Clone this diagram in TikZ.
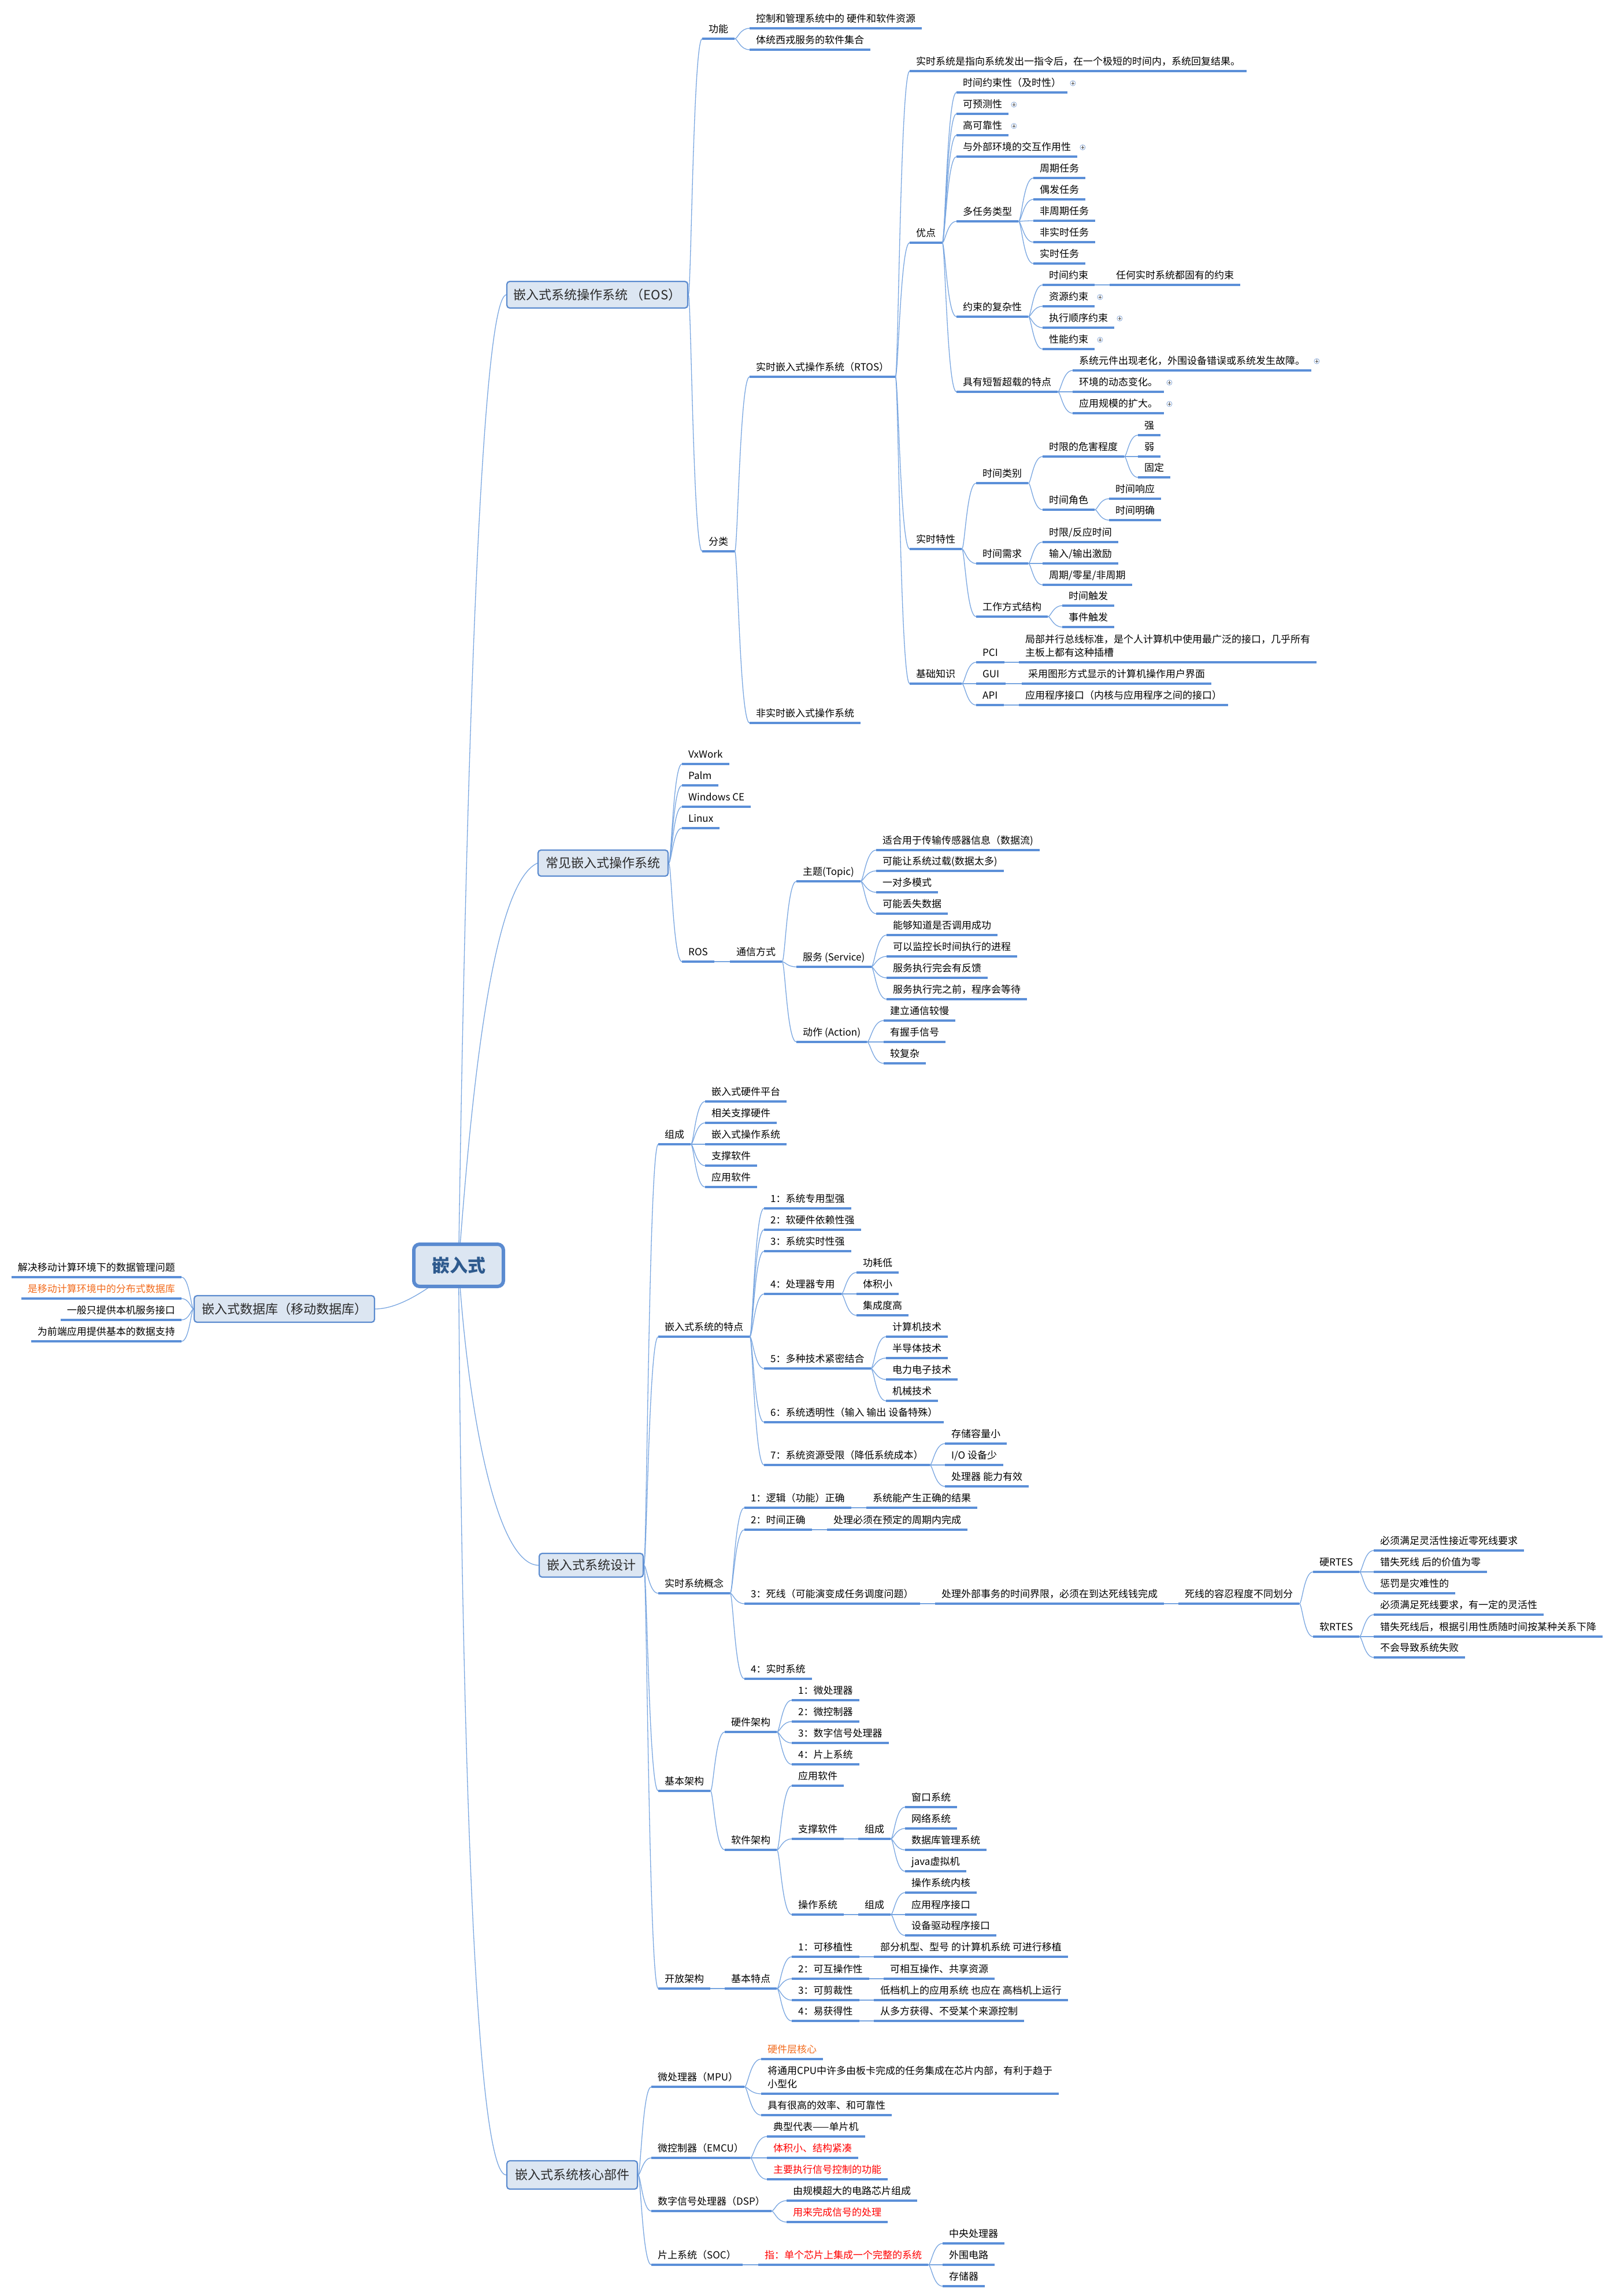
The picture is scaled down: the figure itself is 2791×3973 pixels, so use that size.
\documentclass[tikz,border=0pt]{standalone}
\usepackage{fontspec}
\setmainfont{Noto Sans CJK SC}
\usetikzlibrary{calc}
\pgfdeclarelayer{bg}
\pgfsetlayers{bg,main}
\definecolor{ulc}{HTML}{5B8FD8}
\definecolor{cnc}{HTML}{79A6E0}
\definecolor{bdc}{HTML}{5B8BCF}
\definecolor{bgc}{HTML}{DCE6F2}
\definecolor{rbc}{HTML}{5A8AD0}
\definecolor{rtc}{HTML}{2E5A8E}
\definecolor{tpc}{HTML}{2A2A2A}
\definecolor{orc}{HTML}{F26B1D}
\definecolor{rdc}{HTML}{FF0000}
\definecolor{fdc}{HTML}{9DB8E0}
\definecolor{fpc}{HTML}{444444}
\newcommand\fsn{\fontsize{17}{23}\selectfont}
\newcommand\ftp{\fontsize{22}{26}\selectfont}
\newcommand\frt{\fontsize{31}{36}\selectfont\bfseries}
\newcommand\curve[2]{\draw[conn] (#1) .. controls ($(#1)!0.2!(#1 -| #2)$) and ($(#1 |- #2)!0.35!(#2)$) .. (#2);}
\newcommand\cn[2]{\curve{#1.south east}{#2.south west}}
\newcommand\cb[2]{\curve{#1.east}{#2.south west}}
\newcommand\cl[2]{\curve{#1.west}{#2.south east}}
\newcommand\mstart{\rule{0pt}{14pt}}
\newcommand\mend{\rule[-10pt]{0pt}{10pt}}
\begin{document}
\begin{tikzpicture}[x=1pt,y=-1pt,
  ul/.style={draw=ulc, line width=3.5pt},
  conn/.style={draw=cnc, line width=1.3pt},
  tnb/.style={anchor=south west, inner xsep=11pt, inner ysep=0pt, font=\fsn, text=black,
    append after command={(\tikzlastnode.south west) edge[ul] (\tikzlastnode.south east)}},
  tn/.style={tnb, text height=14pt, text depth=10pt},
  tl/.style={tn, anchor=south east},
  topic/.style={draw=bdc, fill=bgc, rounded corners=5pt, line width=2.2pt, font=\ftp, text=tpc, inner sep=0pt},
  root/.style={draw=rbc, fill=bgc, rounded corners=10pt, line width=6pt, font=\frt, text=rtc, inner sep=0pt},
  fold/.style={circle, draw=fdc, fill=white, line width=1pt, minimum size=9pt, inner sep=0pt,
    path picture={\draw[fpc, line width=0.8pt]
      ([xshift=-2.6pt]path picture bounding box.center) -- ([xshift=2.6pt]path picture bounding box.center)
      ([yshift=-2.6pt]path picture bounding box.center) -- ([yshift=2.6pt]path picture bounding box.center);}},
  orng/.style={text=orc}, redt/.style={text=rdc}
]
\useasboundingbox (0,0) rectangle (2791,3973);

% root and main topics
\node[root, minimum width=155, minimum height=73] (r) at (793.5,2189.5) {嵌入式};
\node[topic, minimum width=313, minimum height=46] (eos) at (1033.5,510) {嵌入式系统操作系统 （EOS）};
\node[topic, minimum width=225, minimum height=45] (cj) at (1043.5,1493.5) {常见嵌入式操作系统};
\node[topic, minimum width=180, minimum height=41] (sj) at (1023,2708.5) {嵌入式系统设计};
\node[topic, minimum width=226, minimum height=49] (hx) at (990,3763.5) {嵌入式系统核心部件};
\node[topic, minimum width=312, minimum height=46] (db) at (492,2265) {嵌入式数据库（移动数据库）};

% ===== EOS =====
\node[tn] (gn) at (1215,67) {功能};
\node[tn] (gn1) at (1297,49) {控制和管理系统中的 硬件和软件资源};
\node[tn] (gn2) at (1297,86) {体统西戎服务的软件集合};
\node[tn] (fl) at (1215,954) {分类};
\node[tn] (rtos) at (1297,652) {实时嵌入式操作系统（RTOS）};
\node[tn] (fss) at (1297,1251) {非实时嵌入式操作系统};
\node[tn] (rt0) at (1574,123) {实时系统是指向系统发出一指令后，在一个极短的时间内，系统回复结果。};
\node[tn] (yd) at (1574,420) {优点};
\node[tn] (yd1) at (1655,160) {时间约束性（及时性）};
\node[tn] (yd2) at (1655,197) {可预测性};
\node[tn] (yd3) at (1655,234) {高可靠性};
\node[tn] (yd4) at (1655,271) {与外部环境的交互作用性};
\node[tn] (yd5) at (1655,383) {多任务类型};
\node[tn] (rw1) at (1788,308) {周期任务};
\node[tn] (rw2) at (1788,345) {偶发任务};
\node[tn] (rw3) at (1788,382) {非周期任务};
\node[tn] (rw4) at (1788,419) {非实时任务};
\node[tn] (rw5) at (1788,456) {实时任务};
\node[tn] (yd6) at (1655,548) {约束的复杂性};
\node[tn] (ys1) at (1804,493) {时间约束};
\node[tn] (ys1a) at (1920,493) {任何实时系统都固有的约束};
\node[tn] (ys2) at (1804,530) {资源约束};
\node[tn] (ys3) at (1804,567) {执行顺序约束};
\node[tn] (ys4) at (1804,604) {性能约束};
\node[tn] (yd7) at (1655,678) {具有短暂超载的特点};
\node[tn] (cz1) at (1856,641) {系统元件出现老化，外围设备错误或系统发生故障。};
\node[tn] (cz2) at (1856,678) {环境的动态变化。};
\node[tn] (cz3) at (1856,715) {应用规模的扩大。};
\node[fold] (f1) at ($(yd1.south east)+(9,-16)$) {};
\node[fold] (f2) at ($(yd2.south east)+(9,-16)$) {};
\node[fold] (f3) at ($(yd3.south east)+(9,-16)$) {};
\node[fold] (f4) at ($(yd4.south east)+(9,-16)$) {};
\node[fold] (f5) at ($(ys2.south east)+(9,-16)$) {};
\node[fold] (f6) at ($(ys3.south east)+(9,-16)$) {};
\node[fold] (f7) at ($(ys4.south east)+(9,-16)$) {};
\node[fold] (f8) at ($(cz1.south east)+(9,-16)$) {};
\node[fold] (f9) at ($(cz2.south east)+(9,-16)$) {};
\node[fold] (f10) at ($(cz3.south east)+(9,-16)$) {};
\node[tn] (ss) at (1574,950) {实时特性};
\node[tn] (sl) at (1689,836) {时间类别};
\node[tn] (sl1) at (1804,790) {时限的危害程度};
\node[tn] (sl1a) at (1969,753) {强};
\node[tn] (sl1b) at (1969,790) {弱};
\node[tn] (sl1c) at (1969,826) {固定};
\node[tn] (sl2) at (1804,882) {时间角色};
\node[tn] (sl2a) at (1919,863) {时间响应};
\node[tn] (sl2b) at (1919,900) {时间明确};
\node[tn] (sx) at (1689,975) {时间需求};
\node[tn] (sx1) at (1804,938) {时限/反应时间};
\node[tn] (sx2) at (1804,975) {输入/输出激励};
\node[tn] (sx3) at (1804,1012) {周期/零星/非周期};
\node[tn] (sg) at (1689,1067) {工作方式结构};
\node[tn] (sg1) at (1838,1048) {时间触发};
\node[tn] (sg2) at (1838,1085) {事件触发};
\node[tn] (jc) at (1574,1183) {基础知识};
\node[tn] (pci) at (1689,1146) {PCI};
\node[tnb, align=left] (pcia) at (1763,1146) {\mstart 局部并行总线标准，是个人计算机中使用最广泛的接口，几乎所有\\主板上都有这种插槽\mend};
\node[tn] (gui) at (1689,1183) {GUI};
\node[tn] (guia) at (1768,1183) {采用图形方式显示的计算机操作用户界面};
\node[tn] (api) at (1689,1220) {API};
\node[tn] (apia) at (1763,1220) {应用程序接口（内核与应用程序之间的接口）};

% ===== common OS =====
\node[tn] (vx) at (1180,1322) {VxWork};
\node[tn] (palm) at (1180,1359) {Palm};
\node[tn] (wce) at (1180,1396) {Windows CE};
\node[tn] (lnx) at (1180,1433) {Linux};
\node[tn] (ros) at (1180,1664) {ROS};
\node[tn] (tx) at (1263,1664) {通信方式};
\node[tn] (tp) at (1378,1525) {主题(Topic)};
\node[tn] (tp1) at (1516,1471) {适合用于传输传感器信息（数据流)};
\node[tn] (tp2) at (1516,1507) {可能让系统过载(数据太多)};
\node[tn] (tp3) at (1516,1544) {一对多模式};
\node[tn] (tp4) at (1516,1581) {可能丢失数据};
\node[tn] (sv) at (1378,1673) {服务 (Service)};
\node[tn] (sv1) at (1534,1618) {能够知道是否调用成功};
\node[tn] (sv2) at (1534,1655) {可以监控长时间执行的进程};
\node[tn] (sv3) at (1534,1692) {服务执行完会有反馈};
\node[tn] (sv4) at (1534,1729) {服务执行完之前，程序会等待};
\node[tn] (ac) at (1378,1803) {动作 (Action)};
\node[tn] (ac1) at (1529,1766) {建立通信较慢};
\node[tn] (ac2) at (1529,1803) {有握手信号};
\node[tn] (ac3) at (1529,1840) {较复杂};

% ===== design =====
\node[tn] (zc) at (1139,1980) {组成};
\node[tn] (zc1) at (1220,1906) {嵌入式硬件平台};
\node[tn] (zc2) at (1220,1943) {相关支撑硬件};
\node[tn] (zc3) at (1220,1980) {嵌入式操作系统};
\node[tn] (zc4) at (1220,2017) {支撑软件};
\node[tn] (zc5) at (1220,2054) {应用软件};
\node[tn] (td) at (1139,2313) {嵌入式系统的特点};
\node[tn] (td1) at (1322,2091) {1：系统专用型强};
\node[tn] (td2) at (1322,2128) {2：软硬件依赖性强};
\node[tn] (td3) at (1322,2165) {3：系统实时性强};
\node[tn] (td4) at (1322,2239) {4：处理器专用};
\node[tn] (td41) at (1482,2202) {功耗低};
\node[tn] (td42) at (1482,2239) {体积小};
\node[tn] (td43) at (1482,2276) {集成度高};
\node[tn] (td5) at (1322,2368) {5：多种技术紧密结合};
\node[tn] (td51) at (1533,2313) {计算机技术};
\node[tn] (td52) at (1533,2350) {半导体技术};
\node[tn] (td53) at (1533,2387) {电力电子技术};
\node[tn] (td54) at (1533,2424) {机械技术};
\node[tn] (td6) at (1322,2461) {6：系统透明性（输入 输出 设备特殊）};
\node[tn] (td7) at (1322,2535) {7：系统资源受限（降低系统成本）};
\node[tn] (td71) at (1635,2498) {存储容量小};
\node[tn] (td72) at (1635,2535) {I/O 设备少};
\node[tn] (td73) at (1635,2572) {处理器 能力有效};
\node[tn] (gl) at (1139,2757) {实时系统概念};
\node[tn] (c1) at (1288,2609) {1：逻辑（功能）正确};
\node[tn] (c1a) at (1499,2609) {系统能产生正确的结果};
\node[tn] (c2) at (1288,2647) {2：时间正确};
\node[tn] (c2a) at (1431,2647) {处理必须在预定的周期内完成};
\node[tn] (c3) at (1288,2775) {3：死线（可能演变成任务调度问题）};
\node[tn] (c3a) at (1618,2775) {处理外部事务的时间界限，必须在到达死线钱完成};
\node[tn] (c3b) at (2039,2775) {死线的容忍程度不同划分};
\node[tn] (hr) at (2272,2720) {硬RTES};
\node[tn] (hr1) at (2377,2683) {必须满足灵活性接近零死线要求};
\node[tn] (hr2) at (2377,2720) {错失死线 后的价值为零};
\node[tn] (hr3) at (2377,2757) {惩罚是灾难性的};
\node[tn] (sr) at (2272,2832) {软RTES};
\node[tn] (sr1) at (2377,2794) {必须满足死线要求，有一定的灵活性};
\node[tn] (sr2) at (2377,2832) {错失死线后，根据引用性质随时间按某种关系下降};
\node[tn] (sr3) at (2377,2868) {不会导致系统失败};
\node[tn] (c4) at (1288,2905) {4：实时系统};
\node[tn] (jg) at (1139,3099) {基本架构};
\node[tn] (yj) at (1254,2997) {硬件架构};
\node[tn] (yj1) at (1370,2942) {1：微处理器};
\node[tn] (yj2) at (1370,2979) {2：微控制器};
\node[tn] (yj3) at (1370,3016) {3：数字信号处理器};
\node[tn] (yj4) at (1370,3053) {4：片上系统};
\node[tn] (rj) at (1254,3201) {软件架构};
\node[tn] (rj1) at (1370,3090) {应用软件};
\node[tn] (rj2) at (1370,3182) {支撑软件};
\node[tn] (rj2z) at (1485,3182) {组成};
\node[tn] (rj2a) at (1566,3127) {窗口系统};
\node[tn] (rj2b) at (1566,3164) {网络系统};
\node[tn] (rj2c) at (1566,3201) {数据库管理系统};
\node[tn] (rj2d) at (1566,3238) {java虚拟机};
\node[tn] (rj3) at (1370,3313) {操作系统};
\node[tn] (rj3z) at (1485,3313) {组成};
\node[tn] (rj3a) at (1566,3275) {操作系统内核};
\node[tn] (rj3b) at (1566,3313) {应用程序接口};
\node[tn] (rj3c) at (1566,3349) {设备驱动程序接口};
\node[tn] (kf) at (1139,3441) {开放架构};
\node[tn] (kt) at (1254,3441) {基本特点};
\node[tn] (k1) at (1370,3386) {1：可移植性};
\node[tn] (k1a) at (1512,3386) {部分机型、型号 的计算机系统 可进行移植};
\node[tn] (k2) at (1370,3424) {2：可互操作性};
\node[tn] (k2a) at (1529,3424) {可相互操作、共享资源};
\node[tn] (k3) at (1370,3461) {3：可剪裁性};
\node[tn] (k3a) at (1512,3461) {低档机上的应用系统 也应在 高档机上运行};
\node[tn] (k4) at (1370,3497) {4：易获得性};
\node[tn] (k4a) at (1512,3497) {从多方获得、不受某个来源控制};

% ===== core parts =====
\node[tn] (mpu) at (1127,3611) {微处理器（MPU）};
\node[tn, orng] (mpu1) at (1317,3563) {硬件层核心};
\node[tnb, align=left] (mpu2) at (1317,3623) {\mstart 将通用CPU中许多由板卡完成的任务集成在芯片内部，有利于趋于\\小型化\mend};
\node[tn] (mpu3) at (1317,3660) {具有很高的效率、和可靠性};
\node[tn] (emc) at (1127,3734) {微控制器（EMCU）};
\node[tn] (emc1) at (1327,3697) {典型代表——单片机};
\node[tn, redt] (emc2) at (1327,3734) {体积小、结构紧凑};
\node[tn, redt] (emc3) at (1327,3771) {主要执行信号控制的功能};
\node[tn] (dsp) at (1127,3826) {数字信号处理器（DSP）};
\node[tn] (dsp1) at (1361,3808) {由规模超大的电路芯片组成};
\node[tn, redt] (dsp2) at (1361,3845) {用来完成信号的处理};
\node[tn] (soc) at (1127,3919) {片上系统（SOC）};
\node[tn, redt] (soc1) at (1312,3919) {指：单个芯片上集成一个完整的系统};
\node[tn] (soc1a) at (1631,3882) {中央处理器};
\node[tn] (soc1b) at (1631,3919) {外围电路};
\node[tn] (soc1c) at (1631,3956) {存储器};

% ===== database =====
\node[tl] (db1) at (314,2210) {解决移动计算环境下的数据管理问题};
\node[tl, orng] (db2) at (314,2247) {是移动计算环境中的分布式数据库};
\node[tl] (db3) at (314,2284) {一般只提供本机服务接口};
\node[tl] (db4) at (314,2321) {为前端应用提供基本的数据支持};

\begin{pgfonlayer}{bg}
% root connectors
\draw[conn] (r.center) .. controls (805,1400) and (830,520) .. (eos.west);
\draw[conn] (r.center) .. controls (815,1900) and (850,1530) .. (cj.west);
\draw[conn] (r.center) .. controls (810,2450) and (860,2708) .. (sj.west);
\draw[conn] (r.center) .. controls (800,3100) and (825,3763) .. (hx.west);
\draw[conn] (r.center) .. controls (760,2215) and (700,2265) .. (db.east);
% EOS
\cb{eos}{gn} \cb{eos}{fl}
\cn{gn}{gn1} \cn{gn}{gn2}
\cn{fl}{rtos} \cn{fl}{fss}
\cn{rtos}{rt0} \cn{rtos}{yd} \cn{rtos}{ss} \cn{rtos}{jc}
\cn{yd}{yd1} \cn{yd}{yd2} \cn{yd}{yd3} \cn{yd}{yd4} \cn{yd}{yd5} \cn{yd}{yd6} \cn{yd}{yd7}
\cn{yd5}{rw1} \cn{yd5}{rw2} \cn{yd5}{rw3} \cn{yd5}{rw4} \cn{yd5}{rw5}
\cn{yd6}{ys1} \cn{yd6}{ys2} \cn{yd6}{ys3} \cn{yd6}{ys4} \cn{ys1}{ys1a}
\cn{yd7}{cz1} \cn{yd7}{cz2} \cn{yd7}{cz3}
\cn{ss}{sl} \cn{ss}{sx} \cn{ss}{sg}
\cn{sl}{sl1} \cn{sl}{sl2}
\cn{sl1}{sl1a} \cn{sl1}{sl1b} \cn{sl1}{sl1c}
\cn{sl2}{sl2a} \cn{sl2}{sl2b}
\cn{sx}{sx1} \cn{sx}{sx2} \cn{sx}{sx3}
\cn{sg}{sg1} \cn{sg}{sg2}
\cn{jc}{pci} \cn{jc}{gui} \cn{jc}{api}
\cn{pci}{pcia} \cn{gui}{guia} \cn{api}{apia}
% common
\cb{cj}{vx} \cb{cj}{palm} \cb{cj}{wce} \cb{cj}{lnx} \cb{cj}{ros}
\cn{ros}{tx}
\cn{tx}{tp} \cn{tx}{sv} \cn{tx}{ac}
\cn{tp}{tp1} \cn{tp}{tp2} \cn{tp}{tp3} \cn{tp}{tp4}
\cn{sv}{sv1} \cn{sv}{sv2} \cn{sv}{sv3} \cn{sv}{sv4}
\cn{ac}{ac1} \cn{ac}{ac2} \cn{ac}{ac3}
% design
\cb{sj}{zc} \cb{sj}{td} \cb{sj}{gl} \cb{sj}{jg} \cb{sj}{kf}
\cn{zc}{zc1} \cn{zc}{zc2} \cn{zc}{zc3} \cn{zc}{zc4} \cn{zc}{zc5}
\cn{td}{td1} \cn{td}{td2} \cn{td}{td3} \cn{td}{td4} \cn{td}{td5} \cn{td}{td6} \cn{td}{td7}
\cn{td4}{td41} \cn{td4}{td42} \cn{td4}{td43}
\cn{td5}{td51} \cn{td5}{td52} \cn{td5}{td53} \cn{td5}{td54}
\cn{td7}{td71} \cn{td7}{td72} \cn{td7}{td73}
\cn{gl}{c1} \cn{gl}{c2} \cn{gl}{c3} \cn{gl}{c4}
\cn{c1}{c1a} \cn{c2}{c2a} \cn{c3}{c3a} \cn{c3a}{c3b}
\cn{c3b}{hr} \cn{c3b}{sr}
\cn{hr}{hr1} \cn{hr}{hr2} \cn{hr}{hr3}
\cn{sr}{sr1} \cn{sr}{sr2} \cn{sr}{sr3}
\cn{jg}{yj} \cn{jg}{rj}
\cn{yj}{yj1} \cn{yj}{yj2} \cn{yj}{yj3} \cn{yj}{yj4}
\cn{rj}{rj1} \cn{rj}{rj2} \cn{rj}{rj3}
\cn{rj2}{rj2z} \cn{rj3}{rj3z}
\cn{rj2z}{rj2a} \cn{rj2z}{rj2b} \cn{rj2z}{rj2c} \cn{rj2z}{rj2d}
\cn{rj3z}{rj3a} \cn{rj3z}{rj3b} \cn{rj3z}{rj3c}
\cn{kf}{kt}
\cn{kt}{k1} \cn{kt}{k2} \cn{kt}{k3} \cn{kt}{k4}
\cn{k1}{k1a} \cn{k2}{k2a} \cn{k3}{k3a} \cn{k4}{k4a}
% core
\cb{hx}{mpu} \cb{hx}{emc} \cb{hx}{dsp} \cb{hx}{soc}
\cn{mpu}{mpu1} \cn{mpu}{mpu2} \cn{mpu}{mpu3}
\cn{emc}{emc1} \cn{emc}{emc2} \cn{emc}{emc3}
\cn{dsp}{dsp1} \cn{dsp}{dsp2}
\cn{soc}{soc1}
\cn{soc1}{soc1a} \cn{soc1}{soc1b} \cn{soc1}{soc1c}
% database
\cl{db}{db1} \cl{db}{db2} \cl{db}{db3} \cl{db}{db4}
\end{pgfonlayer}
\end{tikzpicture}
\end{document}
